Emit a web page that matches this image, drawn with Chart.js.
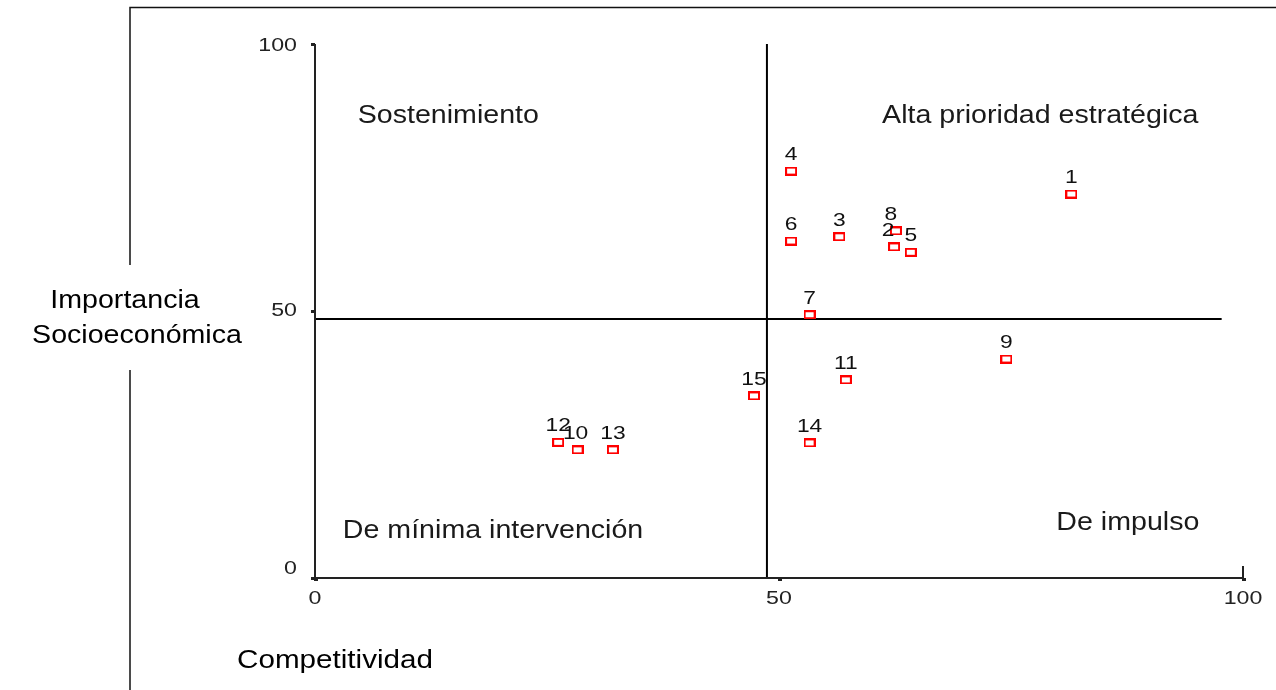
<!DOCTYPE html>
<html>
<head>
<meta charset="utf-8">
<script src="https://cdn.jsdelivr.net/npm/chart.js@4"></script>
<style>
  body { margin: 0; background: #fff; }
  #wrap { width: 1276px; height: 690px; }
</style>
</head>
<body>
<div id="wrap"><canvas id="chart" width="1276" height="690"></canvas></div>
<script>
// Data
const ids = ['1','2','3','4','5','6','7','8','9','10','11','12','13','14','15'];
const competitividad = [81.5, 62.4, 56.5, 51.3, 64.2, 51.3, 53.3, 62.6, 74.5, 28.3, 57.2, 26.2, 32.1, 53.3, 47.3];
const importancia = [71.9, 62.0, 63.9, 76.2, 61.0, 63.1, 49.3, 65.0, 41.0, 24.0, 37.1, 25.4, 24.0, 25.3, 34.1];
const ticks = [0, 50, 100];
const cutX = 48.7;   // vertical divider
const cutY = 48.5;   // horizontal divider
const cutYEnd = 97.7;
const quadrants = [
    { text: 'Sostenimiento', x: 4.6, y: 86.5, align: 'left' },
    { text: 'Alta prioridad estratégica', x: 95.2, y: 86.5, align: 'right' },
    { text: 'De mínima intervención', x: 3.0, y: 8.8, align: 'left' },
    { text: 'De impulso', x: 95.3, y: 10.3, align: 'right' }
];

const FONT = '"Liberation Sans", Arial, sans-serif';
const labelShift = { '2': -6, '8': -5, '10': -2 };

// little hollow red box marker
const marker = document.createElement('canvas');
marker.width = 12; marker.height = 9;
const mctx = marker.getContext('2d');
mctx.strokeStyle = '#ff0000';
mctx.lineWidth = 2;
mctx.strokeRect(1, 1, 10, 7);

// the figure is a bit stretched sideways, so text gets a horizontal scale
function wideText(ctx, txt, x, y, align, sx) {
    ctx.save();
    ctx.translate(x, y);
    ctx.scale(sx, 1);
    ctx.textAlign = align;
    ctx.fillText(txt, 0, 0);
    ctx.restore();
}

const decorations = {
    id: 'decorations',
    afterDraw(chart) {
        const ctx = chart.ctx;
        const xs = chart.scales.x, ys = chart.scales.y;
        const x0 = xs.getPixelForValue(0), x1 = xs.getPixelForValue(100);
        const y0 = ys.getPixelForValue(0), y1 = ys.getPixelForValue(100);

        // outer frame bits
        ctx.save();
        ctx.strokeStyle = '#111';
        ctx.lineWidth = 1.5;
        ctx.beginPath();
        ctx.moveTo(130, 690); ctx.lineTo(130, 370);
        ctx.moveTo(130, 265); ctx.lineTo(130, 7.5); ctx.lineTo(1276, 7.5);
        ctx.stroke();

        // axes
        ctx.strokeStyle = '#222';
        ctx.lineWidth = 2;
        ctx.beginPath();
        ctx.moveTo(x0, y1); ctx.lineTo(x0, y0); ctx.lineTo(x1, y0); ctx.lineTo(x1, y0 - 12);
        ctx.stroke();
        ticks.forEach(t => {
            const py = ys.getPixelForValue(t);
            const px = xs.getPixelForValue(t);
            ctx.fillStyle = '#222';
            ctx.fillRect(x0 - 4, py - 1, 4, 3);
            ctx.fillRect(px - 1, y0, 4, 3);
        });

        // tick labels
        ctx.fillStyle = '#222';
        ctx.font = '19px ' + FONT;
        ctx.textBaseline = 'middle';
        ticks.forEach(t => {
            const py = ys.getPixelForValue(t);
            wideText(ctx, String(t), x0 - 18, py - (t === 0 ? 9 : (t === 100 ? -2 : 0)), 'right', 1.22);
            wideText(ctx, String(t), xs.getPixelForValue(t), y0 + 21, 'center', 1.22);
        });

        // point labels
        ctx.fillStyle = '#111';
        ctx.textBaseline = 'alphabetic';
        const meta = chart.getDatasetMeta(0);
        meta.data.forEach((pt, i) => {
            const dx = labelShift[ids[i]] || 0;
            wideText(ctx, ids[i], pt.x + dx, pt.y - 11, 'center', 1.2);
        });

        // quadrant names
        ctx.font = '26px ' + FONT;
        ctx.textBaseline = 'middle';
        ctx.fillStyle = '#1a1a1a';
        quadrants.forEach(q => {
            wideText(ctx, q.text, xs.getPixelForValue(q.x), ys.getPixelForValue(q.y), q.align, 1.1);
        });

        // axis titles
        ctx.font = '26px ' + FONT;
        ctx.fillStyle = '#000';
        wideText(ctx, 'Importancia', 125, 301, 'center', 1.1);
        wideText(ctx, 'Socioeconómica', 137, 336, 'center', 1.1);
        wideText(ctx, 'Competitividad', 237, 661, 'left', 1.14);
        ctx.restore();
    }
};

const ctx = document.getElementById('chart').getContext('2d');
const chart = new Chart(ctx, {
    type: 'scatter',
    data: {
        datasets: [{
            label: 'Cadenas',
            data: competitividad.map((v, i) => ({ x: v, y: importancia[i] })),
            pointStyle: marker,
            pointRadius: 6
        }, {
            type: 'line',
            data: [{ x: 0, y: cutY }, { x: cutYEnd, y: cutY }],
            borderColor: '#000',
            borderWidth: 2,
            pointRadius: 0,
            fill: false
        }, {
            type: 'line',
            data: [{ x: cutX, y: 0 }, { x: cutX, y: 100 }],
            borderColor: '#000',
            borderWidth: 2,
            pointRadius: 0,
            fill: false
        }]
    },
    options: {
        responsive: false,
        animation: false,
        layout: { padding: { left: 315, right: 33, top: 44, bottom: 112 } },
        plugins: { legend: { display: false }, tooltip: { enabled: false } },
        scales: {
            x: { type: 'linear', min: 0, max: 100, display: false },
            y: { type: 'linear', min: 0, max: 100, display: false }
        }
    },
    plugins: [decorations]
});
</script>
</body>
</html>
